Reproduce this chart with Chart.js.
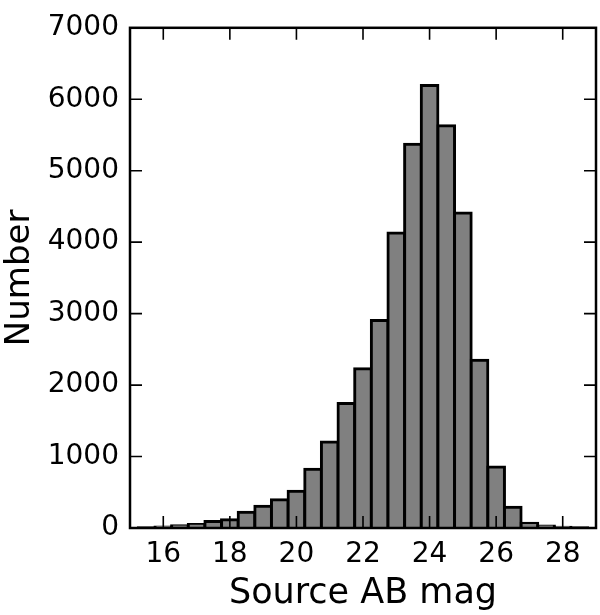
<!DOCTYPE html>
<html>
<head>
<meta charset="utf-8">
<script src="https://cdn.jsdelivr.net/npm/chart.js@4.4.1/dist/chart.umd.min.js"></script>
<style>
  body { margin: 0; background: #fff; }
  canvas { display: block; }
</style>
</head>
<body>
<canvas id="histChart" width="600" height="615"></canvas>
<script>
// histogram bins (centres, width 0.5 mag) and counts
const binCenters = [15.5, 16, 16.5, 17, 17.5, 18, 18.5, 19, 19.5, 20, 20.5, 21, 21.5, 22,
                    22.5, 23, 23.5, 24, 24.5, 25, 25.5, 26, 26.5, 27, 27.5, 28, 28.5];
const counts = [5, 15, 30, 50, 90, 115, 222, 305, 397, 516, 822, 1205, 1744, 2229,
                2904, 4127, 5370, 6192, 5630, 4407, 2347, 853, 292, 68, 28, 12, 4];
const xTickVals = [16, 18, 20, 22, 24, 26, 28];
const yTickVals = [0, 1000, 2000, 3000, 4000, 5000, 6000, 7000];

const FONT = "'DejaVu Sans', sans-serif";

// matplotlib-style frame with inward ticks on all four sides
const framePlugin = {
    id: 'frame',
    afterDatasetsDraw(chart) {
        const { ctx, chartArea: a, scales } = chart;
        const len = 12;
        ctx.save();
        ctx.strokeStyle = '#000';
        ctx.lineWidth = 1.6;
        ctx.beginPath();
        xTickVals.forEach(v => {
            const px = scales.x.getPixelForValue(v);
            ctx.moveTo(px, a.bottom); ctx.lineTo(px, a.bottom - len);
            ctx.moveTo(px, a.top); ctx.lineTo(px, a.top + len);
        });
        yTickVals.forEach(v => {
            const py = scales.y.getPixelForValue(v);
            ctx.moveTo(a.left, py); ctx.lineTo(a.left + len, py);
            ctx.moveTo(a.right, py); ctx.lineTo(a.right - len, py);
        });
        ctx.stroke();
        ctx.lineWidth = 2.5;
        ctx.strokeRect(a.left, a.top, a.right - a.left, a.bottom - a.top);
        ctx.restore();
    }
};

const ctx = document.getElementById('histChart').getContext('2d');
new Chart(ctx, {
    type: 'bar',
    data: {
        datasets: [{
            data: binCenters.map((x, i) => ({ x: x, y: counts[i] })),
            backgroundColor: '#808080',
            borderColor: '#000',
            borderWidth: 3,
            inflateAmount: 1.5,
            borderSkipped: 'start',
            barPercentage: 1,
            categoryPercentage: 1
        }]
    },
    options: {
        responsive: false,
        animation: false,
        layout: { padding: { left: 0, right: 4, top: 17, bottom: 0 } },
        plugins: { legend: { display: false }, tooltip: { enabled: false } },
        scales: {
            x: {
                type: 'linear',
                min: 15,
                max: 29,
                offset: false,
                grid: { display: false, drawTicks: false },
                border: { display: false },
                afterBuildTicks: s => { s.ticks = xTickVals.map(v => ({ value: v })); },
                afterFit: s => { s.height = 87; },
                ticks: {
                    color: '#000',
                    padding: 10,
                    maxRotation: 0,
                    font: { family: FONT, size: 28 },
                    callback: v => String(v)
                },
                title: {
                    display: true,
                    text: 'Source AB mag',
                    color: '#000',
                    font: { family: FONT, size: 35 },
                    padding: { top: 0, bottom: 0 }
                }
            },
            y: {
                min: 0,
                max: 7000,
                grid: { display: false, drawTicks: false },
                border: { display: false },
                afterBuildTicks: s => { s.ticks = yTickVals.map(v => ({ value: v })); },
                afterFit: s => { s.width = 130; },
                ticks: {
                    color: '#000',
                    padding: 11,
                    font: { family: FONT, size: 28 },
                    callback: v => String(v)
                },
                title: {
                    display: true,
                    text: 'Number',
                    color: '#000',
                    font: { family: FONT, size: 34 },
                    padding: { top: 0, bottom: 0 }
                }
            }
        }
    },
    plugins: [framePlugin]
});
</script>
</body>
</html>
